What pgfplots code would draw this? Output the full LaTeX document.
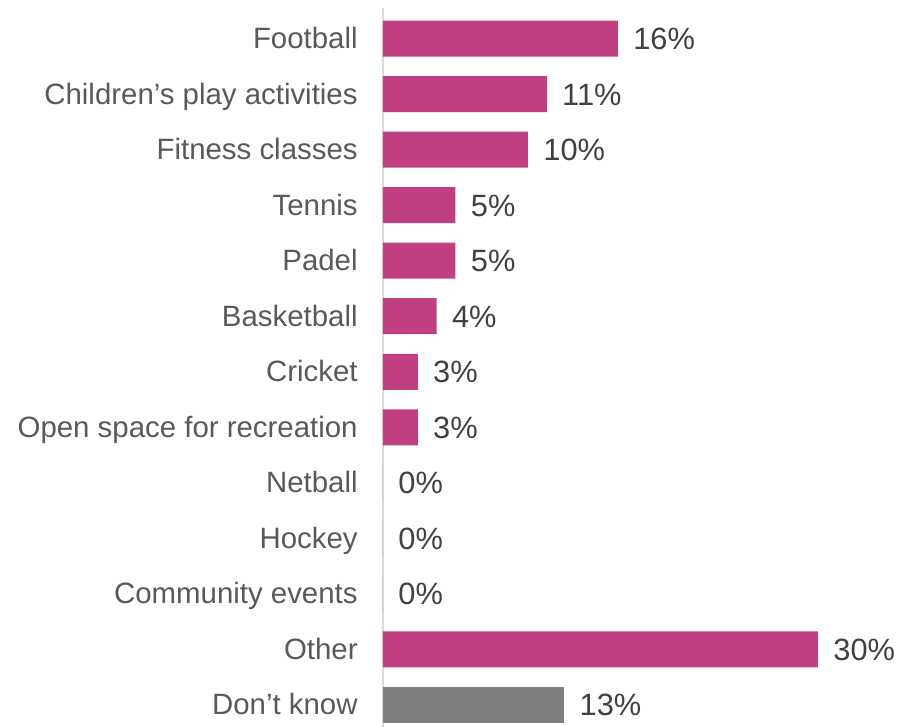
\documentclass[border=0pt]{standalone}
\usepackage{pgfplots}
\pgfplotsset{compat=1.18}
\usepackage{fontspec}
\setmainfont{Liberation Sans}
\definecolor{barpink}{HTML}{BF3F81}
\definecolor{bargray}{HTML}{7F7F7F}
\definecolor{labgray}{HTML}{595959}
\definecolor{valgray}{HTML}{404040}
\definecolor{axgray}{HTML}{D9D9D9}
\begin{document}
\begin{tikzpicture}
\useasboundingbox (-191.5pt,0pt) rectangle (266.5pt,363.5pt);
\begin{axis}[
  at={(0pt,0pt)}, anchor=south west,
  scale only axis,
  width=261pt, height=359.4pt,
  xbar, bar width=18pt, bar shift=0pt,
  xmin=0, xmax=36,
  ymin=-0.4, ymax=12.55,
  axis x line=none,
  axis y line*=left,
  y axis line style={draw=axgray, line width=1pt},
  ytick={0,...,12},
  yticklabels={Don’t know, Other, Community events, Hockey, Netball, Open space for recreation, Cricket, Basketball, Padel, Tennis, Fitness classes, Children’s play activities, Football},
  major tick length=0pt,
  yticklabel style={font=\fontsize{14.7}{17}\selectfont, text=labgray, inner sep=0pt, xshift=-12.5pt, yshift=-1.5pt, text height=0.72em, text depth=0pt},
  point meta=explicit symbolic,
  nodes near coords,
  every node near coord/.append style={font=\fontsize{15.4}{18}\selectfont, text=valgray, anchor=west, inner sep=0pt, xshift=7.5pt, yshift=-1.8pt, text height=0.72em, text depth=0pt},
  clip=false,
]
\addplot[fill=barpink, draw=none] table[x=v, y=y, meta=l] {
y v l
12 16.2 16\%
11 11.3 11\%
10 10.0 10\%
9 5.0 5\%
8 5.0 5\%
7 3.7 4\%
6 2.4 3\%
5 2.4 3\%
4 0 0\%
3 0 0\%
2 0 0\%
1 30.0 30\%
};
\addplot[fill=bargray, draw=none] table[x=v, y=y, meta=l] {
y v l
0 12.5 13\%
};
\end{axis}
\end{tikzpicture}
\end{document}
